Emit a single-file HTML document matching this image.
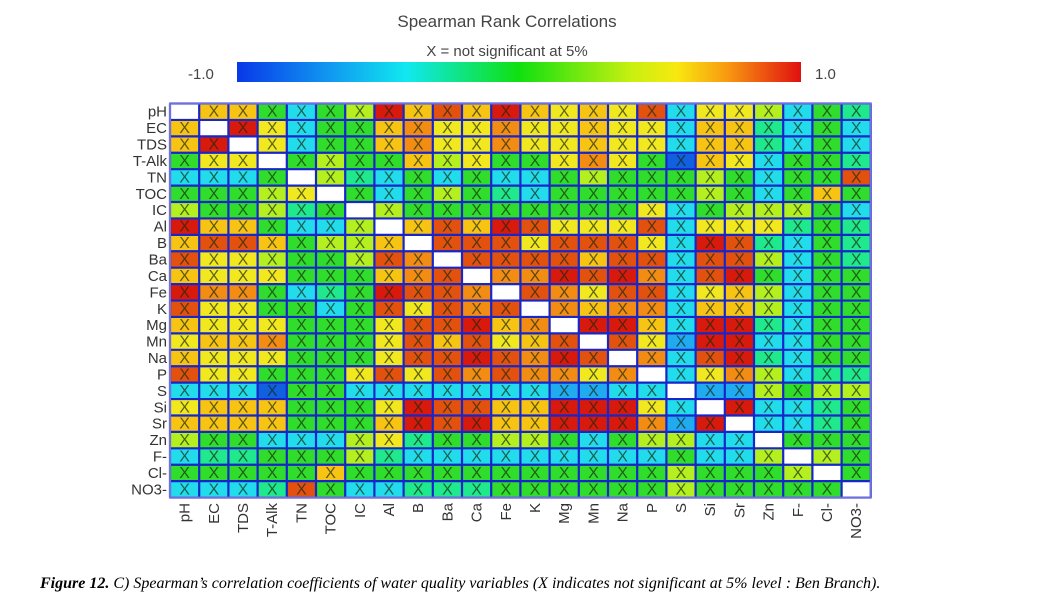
<!DOCTYPE html>
<html><head><meta charset="utf-8"><style>
html,body{margin:0;padding:0;background:#fff;width:1048px;height:603px;overflow:hidden}
</style></head><body>
<svg id="s" width="1048" height="603" xmlns="http://www.w3.org/2000/svg" font-family="Liberation Sans, Arial, sans-serif">
<defs><linearGradient id="cb" x1="0" x2="1" y1="0" y2="0">
<stop offset="0" stop-color="#0838e8"/><stop offset="0.15" stop-color="#1090f0"/>
<stop offset="0.3" stop-color="#10e8f0"/><stop offset="0.5" stop-color="#10e010"/>
<stop offset="0.7" stop-color="#c8f010"/><stop offset="0.78" stop-color="#f8e810"/>
<stop offset="0.87" stop-color="#f89810"/><stop offset="1" stop-color="#e01010"/>
</linearGradient></defs>
<text x="507" y="27" font-size="17" fill="#444" text-anchor="middle">Spearman Rank Correlations</text>
<text x="507" y="56" font-size="15" fill="#444" text-anchor="middle">X = not significant at 5%</text>
<rect x="237" y="62" width="564" height="20" fill="url(#cb)"/>
<text x="188" y="79" font-size="15" fill="#444">-1.0</text>
<text x="815" y="79" font-size="15" fill="#444">1.0</text>
<text x="40" y="588" font-size="16" font-family="Liberation Serif, serif" font-style="italic"><tspan font-weight="bold">Figure 12.</tspan> C) Spearman’s correlation coefficients of water quality variables (X indicates not significant at 5% level : Ben Branch).</text>
<g id="g"></g>
</svg>
<script>
var rows=[
"WYYGCGLRYOYRYyYyOCyyLCGg",
"YWRyCGGYoyyoyyYyyCYYgCGC",
"YRWyCGGYoyyoyyYyyCYYgCGC",
"GyyWGLGGYLyGGyoyGDYyCGGg",
"CCCGWLgCGCGCCGLGGGLGCGGO",
"GGGLyWGCGLGgCGGGGGLGCGYG",
"LGGLgGWLGGGGGGGGyCGLLLGC",
"RYYGCCLWYOYROyyyOCyyygGg",
"YOOYGLLYWOOOyOOOyCROgCGg",
"OyyLGGLOoWOOOOYOOCOOLCGg",
"YyyyGGGYoOWooRORoCORGCGG",
"RooGCgGROOoWOoyOOCyYLCGG",
"OyyGGCGOyOoOWoYooCYYLCGG",
"YyyyGGGyOORYoWRRYCRRgCGG",
"yYYoGGGyOYOyYOWOyBRRCCGG",
"YyyyGGGyOOROoROWoCORgCGG",
"OyyGGGyOyOoOooyoWCyoLCgg",
"CCCDGGCCCCCCCBBCCWBBLGLL",
"yYYYGGGyROOYYRRRyCWRCCgG",
"YYYYGGGYRORYYRRRoBRWCCgG",
"LGGCCCLygGGLLGCGLLCCWGGG",
"CggGGGLgCCCCCCCCCGCCLWLG",
"GGGGGYGGGGGGGGGGGLGGGLWG",
"CCCgOGCCgggGGGGGGLGGGGGW"];
var col={W:"#ffffff",R:"#d81a0c",O:"#e2520e",o:"#f28c12",Y:"#f8c414",y:"#f2e820",L:"#b4f020",G:"#30dc2c",g:"#20e88c",C:"#22dcec",B:"#20aaf0",D:"#1060e0"};
var names=["pH","EC","TDS","T-Alk","TN","TOC","IC","Al","B","Ba","Ca","Fe","K","Mg","Mn","Na","P","S","Si","Sr","Zn","F-","Cl-","NO3-"];
var x0=170,y0=103.5,cw=29.2,ch=16.42,h="";
for(var r=0;r<24;r++)for(var c=0;c<24;c++){
 var k=rows[r][c],x=x0+c*cw,y=y0+r*ch;
 h+='<rect x="'+x+'" y="'+y+'" width="'+cw+'" height="'+ch+'" fill="'+col[k]+'"/>';
 if(k!="W")h+='<text x="'+(x+cw/2)+'" y="'+(y+ch/2+5)+'" font-size="16" fill="#1a2a10" fill-opacity="0.7" text-anchor="middle">X</text>';
}
for(var i=0;i<=24;i++){
 h+='<line x1="'+(x0+i*cw)+'" y1="'+y0+'" x2="'+(x0+i*cw)+'" y2="'+(y0+24*ch)+'" stroke="#1626c8" stroke-width="2.2"/>';
 h+='<line x1="'+x0+'" y1="'+(y0+i*ch)+'" x2="'+(x0+24*cw)+'" y2="'+(y0+i*ch)+'" stroke="#1626c8" stroke-width="2.2"/>';
}
h+='<rect x="'+x0+'" y="'+y0+'" width="'+(24*cw)+'" height="'+(24*ch)+'" fill="none" stroke="#7070e0" stroke-width="2"/>';
for(var i=0;i<24;i++){
 h+='<text x="167" y="'+(y0+i*ch+ch/2+5)+'" font-size="15" fill="#333" text-anchor="end">'+names[i]+'</text>';
 var cx=x0+i*cw+cw/2+5;
 h+='<text transform="translate('+cx+',503) rotate(-90)" font-size="15" fill="#333" text-anchor="end">'+names[i]+'</text>';
}
document.getElementById("g").innerHTML=h;
</script>
</body></html>
